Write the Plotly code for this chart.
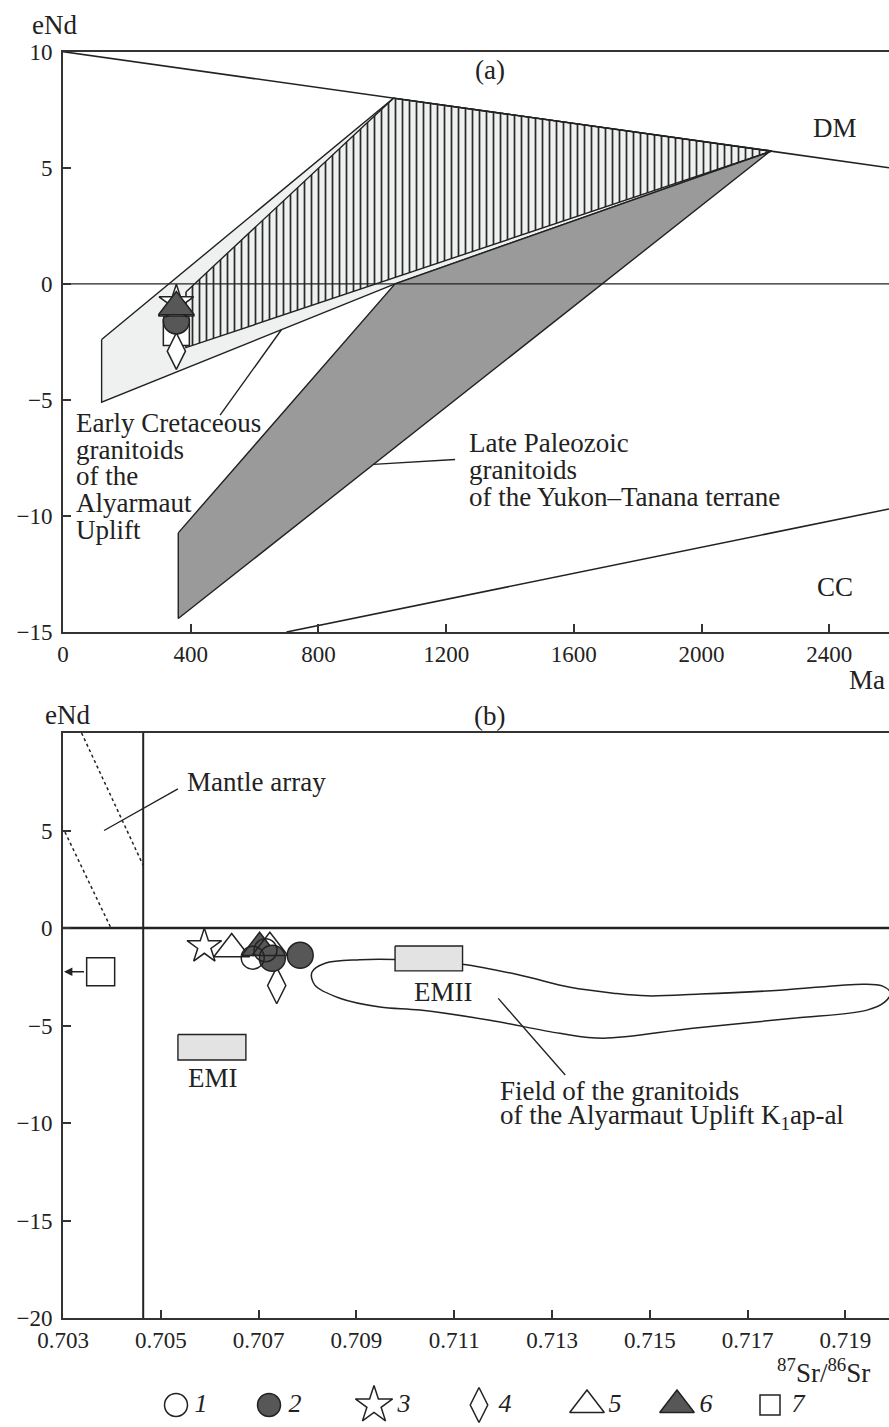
import plotly.graph_objects as go

W, H = 889, 1427
L = 63
PW = W - L
FONT = "Liberation Serif"
INK = "#222222"
DARK = "#575757"

# ---------------- panel (a): eNd vs age (Ma) ----------------
a_xrange = [0, 2587]
a_yrange = [-15, 10]
a_xticks = [0, 400, 800, 1200, 1600, 2000, 2400]
a_yticks = [-15, -10, -5, 0, 5, 10]

dm_t = [0, 2587]
dm_e = [10.0, 5.0]
cc_t = [700, 2587]
cc_e = [-15.0, -9.7]

early_t = [121, 1035, 2220, 1040, 121, 121]
early_e = [-2.4, 8.0, 5.72, 0.0, -5.1, -2.4]

hatch_t = [385, 1035, 2220, 385, 385]
hatch_e = [-0.35, 8.0, 5.72, -2.75, -0.35]

late_t = [361, 1040, 2212, 361, 361]
late_e = [-10.73, 0.0, 5.68, -14.42, -10.73]

early_leader_t = [492, 684]
early_leader_e = [-5.66, -1.98]
late_leader_t = [972, 1228]
late_leader_e = [-7.78, -7.57]

# sample points, panel (a): groups 1..7
a_t = [355, 355, 355, 355, 355, 355, 355]
a_e = [-1.35, -1.6, -0.8, -2.9, -1.05, -1.0, -2.1]

early_label = ["Early Cretaceous", "granitoids", "of the", "Alyarmaut", "Uplift"]
late_label = ["Late Paleozoic", "granitoids", "of the Yukon\u2013Tanana terrane"]

# ---------------- panel (b): eNd vs 87Sr/86Sr ----------------
b_xrange = [0.703, 0.71989]
b_yrange = [-20, 10]
b_xticks = [0.703, 0.705, 0.707, 0.709, 0.711, 0.713, 0.715, 0.717, 0.719]
b_xticktext = ["0.703", "0.705", "0.707", "0.709", "0.711", "0.713", "0.715", "0.717", "0.719"]
b_yticks = [-20, -15, -10, -5, 0, 5]

bulk_sr = 0.70464
mantle1_sr = [0.70338, 0.70464]
mantle1_e = [10.0, 3.21]
mantle2_sr = [0.70304, 0.70398]
mantle2_e = [4.92, 0.0]
mantle_leader_sr = [0.70384, 0.70535]
mantle_leader_e = [5.0, 7.14]

emi_sr = [0.70535, 0.70674]
emi_e = [-5.46, -6.77]
emii_sr = [0.70979, 0.71117]
emii_e = [-0.92, -2.2]

field_sr = [0.71116, 0.71235, 0.71337, 0.71425, 0.71494, 0.71603, 0.71766, 0.71936,
            0.71975, 0.71992, 0.71980, 0.71944, 0.71793, 0.71588, 0.71404, 0.71316,
            0.71173, 0.71030, 0.70948, 0.70866, 0.70815, 0.70809, 0.70836, 0.70907,
            0.70979, 0.71116]
field_e = [-1.86, -2.42, -3.04, -3.34, -3.48, -3.39, -3.19, -2.88,
           -2.97, -3.34, -3.80, -4.21, -4.63, -5.14, -5.65, -5.40,
           -4.73, -4.21, -4.05, -3.60, -2.93, -2.27, -1.81, -1.63,
           -1.62, -1.86]
field_leader_sr = [0.71190, 0.71327]
field_leader_e = [-3.61, -7.54]

b_g1_sr = [0.70688, 0.70714]; b_g1_e = [-1.52, -1.14]
b_g2_sr = [0.70728, 0.70785]; b_g2_e = [-1.55, -1.40]
b_g3_sr = [0.70589];          b_g3_e = [-0.94]
b_g4_sr = [0.70737];          b_g4_e = [-2.95]
b_g5_sr = [0.70645, 0.70723]; b_g5_e = [-1.08, -1.01]
b_g6_sr = [0.70702];          b_g6_e = [-1.01]
b_g7_sr = [0.70377];          b_g7_e = [-2.24]
arrow_tip_sr = 0.70302

legend_labels = ["1", "2", "3", "4", "5", "6", "7"]

# ---------------- styles ----------------
sym = {1: "circle", 2: "circle", 3: "star", 4: "diamond-tall",
       5: "triangle-up", 6: "triangle-up", 7: "square"}
col = {1: "white", 2: DARK, 3: "white", 4: "white", 5: "white", 6: DARK, 7: "white"}
size_plot = {1: 23, 2: 26, 3: 26, 4: 26, 5: 31, 6: 31, 7: 26}
size_leg = {1: 23, 2: 23, 3: 28, 4: 25, 5: 30, 6: 30, 7: 20}
leg_marker_px = [176, 269, 374, 479, 587, 677, 770]
leg_label_px = [201, 295, 404, 505, 615, 706, 798]


def px_x(px):
    return (px - L) / PW


def px_y(py):
    return 1 - py / H


fig = go.Figure()


def line(x, y, xa, ya, width=1.5, dash="solid", color=INK):
    fig.add_trace(go.Scatter(x=x, y=y, xaxis=xa, yaxis=ya, mode="lines",
                             line=dict(color=color, width=width, dash=dash),
                             hoverinfo="skip", showlegend=False))


def poly(x, y, xa, ya, fill, width=1.4, **kw):
    fig.add_trace(go.Scatter(x=x, y=y, xaxis=xa, yaxis=ya, mode="lines",
                             fill="toself", fillcolor=fill,
                             line=dict(color=INK, width=width),
                             hoverinfo="skip", showlegend=False, **kw))


def pts(x, y, g, xa, ya, size, hollow=False):
    symbol = sym[g] + ("-open" if hollow else "")
    fig.add_trace(go.Scatter(x=x, y=y, xaxis=xa, yaxis=ya, mode="markers",
                             marker=dict(symbol=symbol, size=size,
                                         color=INK if hollow else col[g],
                                         line=dict(color=INK, width=1.5)),
                             hoverinfo="skip", showlegend=False, cliponaxis=False))


# ---- panel (a) ----
poly(early_t, early_e, "x", "y", "#eff1f0")
poly(late_t, late_e, "x", "y", "#9a9a9a")
poly(hatch_t, hatch_e, "x", "y", "rgba(0,0,0,0)",
     fillpattern=dict(shape="|", size=7, solidity=0.25, fgcolor="#2a2a2a",
                      bgcolor="rgba(0,0,0,0)", fgopacity=1))
line(dm_t, dm_e, "x", "y", 1.6)
line(cc_t, cc_e, "x", "y", 1.6)
line(a_xrange, [0, 0], "x", "y", 1.2)
line(early_leader_t, early_leader_e, "x", "y", 1.4)
line(late_leader_t, late_leader_e, "x", "y", 1.4)
for g in [7, 4, 1, 2, 5, 3, 6]:
    pts([a_t[g - 1]], [a_e[g - 1]], g, "x", "y", size_plot[g])

# ---- panel (b) ----
line([bulk_sr, bulk_sr], b_yrange, "x2", "y2", 2)
line(b_xrange, [0, 0], "x2", "y2", 2.6)
line(mantle1_sr, mantle1_e, "x2", "y2", 1.5, "dot")
line(mantle2_sr, mantle2_e, "x2", "y2", 1.5, "dot")
line(mantle_leader_sr, mantle_leader_e, "x2", "y2", 1.4)
fig.add_trace(go.Scatter(x=field_sr, y=field_e, xaxis="x2", yaxis="y2", mode="lines",
                         line=dict(color=INK, width=1.5, shape="spline", smoothing=1.0),
                         hoverinfo="skip", showlegend=False))
line(field_leader_sr, field_leader_e, "x2", "y2", 1.4)
for bx, by in [(emi_sr, emi_e), (emii_sr, emii_e)]:
    poly([bx[0], bx[1], bx[1], bx[0], bx[0]], [by[0], by[0], by[1], by[1], by[0]],
         "x2", "y2", "#e3e3e3")

pts(b_g7_sr, b_g7_e, 7, "x2", "y2", 28)
pts(b_g4_sr, b_g4_e, 4, "x2", "y2", size_plot[4])
pts(b_g3_sr, b_g3_e, 3, "x2", "y2", size_plot[3])
pts(b_g5_sr[:1], b_g5_e[:1], 5, "x2", "y2", size_plot[5])
pts(b_g6_sr, b_g6_e, 6, "x2", "y2", size_plot[6])
pts(b_g2_sr, b_g2_e, 2, "x2", "y2", size_plot[2])
pts(b_g1_sr, b_g1_e, 1, "x2", "y2", size_plot[1], hollow=True)
pts(b_g5_sr[1:], b_g5_e[1:], 5, "x2", "y2", size_plot[5], hollow=True)

# ---- legend row ----
for i, g in enumerate(range(1, 8)):
    pts([leg_marker_px[i]], [0], g, "x3", "y3", size_leg[g])
fig.add_trace(go.Scatter(x=leg_label_px, y=[0] * 7, xaxis="x3", yaxis="y3", mode="text",
                         text=["<i>%s</i>" % s for s in legend_labels],
                         textfont=dict(family=FONT, size=26, color=INK),
                         hoverinfo="skip", showlegend=False, cliponaxis=False))

# ---------------- annotations ----------------
ann = []


def txt(text, x, y, xref, yref, xanchor="center", yanchor="middle", size=27):
    ann.append(dict(text=text, x=x, y=y, xref=xref, yref=yref, showarrow=False,
                    xanchor=xanchor, yanchor=yanchor,
                    font=dict(family=FONT, size=size, color=INK)))


txt("(a)", 1337, 9.21, "x", "y")
txt("DM", 2418, 6.7, "x", "y")
txt("CC", 2418, -13.07, "x", "y")
for i, s in enumerate(early_label):
    txt(s, 35, -6.0 - i * 1.148, "x", "y", xanchor="left")
for i, s in enumerate(late_label):
    txt(s, 1264, -6.87 - i * 1.16, "x", "y", xanchor="left")

txt("Mantle array", 0.705495, 7.48, "x2", "y2", xanchor="left")
txt("EMI", 0.70607, -7.7, "x2", "y2")
txt("EMII", 0.710777, -3.28, "x2", "y2")
txt("Field of the granitoids", 0.711896, -8.36, "x2", "y2", xanchor="left")
txt("of the Alyarmaut Uplift K<sub>1</sub>ap-al", 0.711896, -9.69, "x2", "y2", xanchor="left")

txt("eNd", px_x(54), px_y(25), "paper", "paper")
txt("eNd", px_x(67), px_y(715), "paper", "paper")
txt("(b)", px_x(490), px_y(716), "paper", "paper")
txt("Ma", px_x(887), px_y(680), "paper", "paper", xanchor="right")
txt("<sup>87</sup>Sr/<sup>86</sup>Sr", px_x(872), px_y(1371), "paper", "paper", xanchor="right")

ann.append(dict(x=arrow_tip_sr, y=b_g7_e[0], ax=b_g7_sr[0] - 0.00031, ay=b_g7_e[0],
                xref="x2", yref="y2", axref="x2", ayref="y2", text="", showarrow=True,
                arrowhead=2, arrowsize=1.2, arrowwidth=1.4, arrowcolor=INK))

axis_common = dict(showgrid=False, zeroline=False, showline=True, linewidth=2,
                   linecolor="#333333", ticks="inside", ticklen=8, tickwidth=1.5,
                   tickcolor="#333333", automargin=False,
                   tickfont=dict(family=FONT, size=23, color=INK))

fig.update_layout(
    width=W, height=H,
    margin=dict(l=L, r=0, t=0, b=0, pad=0, autoexpand=False),
    paper_bgcolor="white", plot_bgcolor="white",
    showlegend=False,
    annotations=ann,
    xaxis=dict(domain=[0, 1], range=a_xrange, anchor="y", tickvals=a_xticks,
               mirror=True, **axis_common),
    yaxis=dict(domain=[px_y(632), px_y(51.7)], range=a_yrange, anchor="x",
               tickvals=a_yticks, ticklabelstandoff=4, **axis_common),
    xaxis2=dict(domain=[0, 1], range=b_xrange, anchor="y2", tickvals=b_xticks,
                ticktext=b_xticktext, mirror=True, **axis_common),
    yaxis2=dict(domain=[px_y(1318), px_y(733)], range=b_yrange, anchor="x2",
                tickvals=b_yticks, ticklabelstandoff=4, **axis_common),
    xaxis3=dict(domain=[0, 1], range=[L, W], anchor="y3", visible=False),
    yaxis3=dict(domain=[px_y(1425), px_y(1385)], range=[-1, 1], anchor="x3", visible=False),
)

fig.write_html("out.html")
